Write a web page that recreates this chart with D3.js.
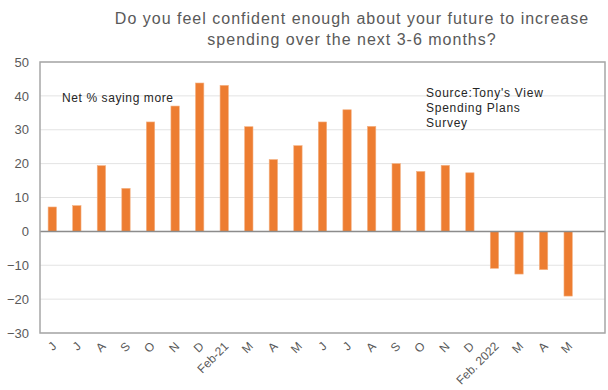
<!DOCTYPE html>
<html>
<head>
<meta charset="utf-8">
<script src="https://cdn.jsdelivr.net/npm/d3@7"></script>
<style>
  body { margin: 0; background: #fff; }
  svg { font-family: "Liberation Sans", Arial, sans-serif; }
</style>
</head>
<body>
<svg class="bar-chart" width="608" height="390"></svg>
<script>
// Month labels (last slot is an empty category, as in the original)
const months = ['J', 'J', 'A', 'S', 'O', 'N', 'D', 'Feb-21', 'M', 'A', 'M', 'J', 'J', 'A', 'S', 'O', 'N', 'D', 'Feb. 2022', 'M', 'A', 'M', ''];
// Net % saying more
const netValues = [7.2, 7.6, 19.4, 12.7, 32.3, 37, 43.8, 43.1, 30.9, 21.2, 25.3, 32.3, 35.9, 31, 20, 17.7, 19.5, 17.3, -10.9, -12.6, -11.3, -19.1, null];
const yTicks = [-30, -20, -10, 0, 10, 20, 30, 40, 50];
const titleLines = ['Do you feel confident enough about your future to increase', 'spending over the next 3-6 months?'];
const sourceLines = ["Source:Tony's View", 'Spending Plans', 'Survey'];

const svg = d3.select('.bar-chart');

// Plot area
const margin = { top: 62, right: 3, bottom: 57, left: 40 };
const width = 608 - margin.left - margin.right;
const height = 390 - margin.top - margin.bottom;

const data = months.map((m, i) => ({ idx: i, month: m, value: netValues[i] }));

const xScale = d3.scaleBand()
    .domain(data.map(d => d.idx))
    .range([0, width])
    .paddingInner(0.66)
    .paddingOuter(0.33);

const yScale = d3.scaleLinear()
    .domain([-30, 50])
    .range([height, 0]);

const g = svg.append('g')
    .attr('transform', `translate(${margin.left}, ${margin.top})`);

// Gridlines
g.append('g')
    .selectAll('line')
    .data(yTicks)
    .join('line')
    .attr('x1', 0)
    .attr('x2', width)
    .attr('y1', d => yScale(d))
    .attr('y2', d => yScale(d))
    .attr('stroke', '#e3e3e3')
    .attr('stroke-width', 1);

// Bars
g.append('g')
    .selectAll('rect')
    .data(data.filter(d => d.value !== null))
    .join('rect')
    .attr('x', d => xScale(d.idx))
    .attr('width', xScale.bandwidth())
    .attr('y', d => yScale(Math.max(0, d.value)))
    .attr('height', d => Math.abs(yScale(d.value) - yScale(0)))
    .attr('fill', '#ed7d31')
    .attr('stroke', '#f4b183')
    .attr('stroke-width', 0.6);

// Zero line
g.append('line')
    .attr('x1', 0)
    .attr('x2', width)
    .attr('y1', yScale(0))
    .attr('y2', yScale(0))
    .attr('stroke', '#8c8c8c')
    .attr('stroke-width', 1.5);

// Plot border
g.append('rect')
    .attr('x', 0)
    .attr('y', 0)
    .attr('width', width)
    .attr('height', height)
    .attr('fill', 'none')
    .attr('stroke', '#a6a6a6')
    .attr('stroke-width', 1.5);

// Y axis labels
const yAxis = g.append('g')
    .call(d3.axisLeft(yScale).tickValues(yTicks).tickSize(0).tickPadding(11));
yAxis.select('.domain').remove();
yAxis.selectAll('text')
    .attr('fill', '#595959')
    .style('font-size', '13px');

// X axis labels, rotated
const xAxis = g.append('g')
    .attr('transform', `translate(0, ${height})`)
    .call(d3.axisBottom(xScale).tickFormat(i => months[i]).tickSize(0));
xAxis.select('.domain').remove();
xAxis.selectAll('text')
    .attr('fill', '#595959')
    .style('font-size', '12px')
    .attr('text-anchor', 'end')
    .attr('dy', null)
    .attr('y', 0)
    .attr('transform', 'translate(5, 14) rotate(-45)');

// Title
svg.append('text')
    .attr('text-anchor', 'middle')
    .attr('fill', '#595959')
    .style('font-size', '16px')
    .style('letter-spacing', '1px')
    .selectAll('tspan')
    .data(titleLines)
    .join('tspan')
    .attr('x', 352)
    .attr('y', (d, i) => 24 + i * 21)
    .text(d => d);

// Series annotation
svg.append('text')
    .attr('x', 62)
    .attr('y', 102)
    .attr('fill', '#262626')
    .style('font-size', '12px')
    .style('letter-spacing', '0.6px')
    .text('Net % saying more');

// Source note
svg.append('text')
    .attr('fill', '#262626')
    .style('font-size', '12px')
    .style('letter-spacing', '0.75px')
    .selectAll('tspan')
    .data(sourceLines)
    .join('tspan')
    .attr('x', 426)
    .attr('y', (d, i) => 97 + i * 15)
    .text(d => d);
</script>
</body>
</html>
